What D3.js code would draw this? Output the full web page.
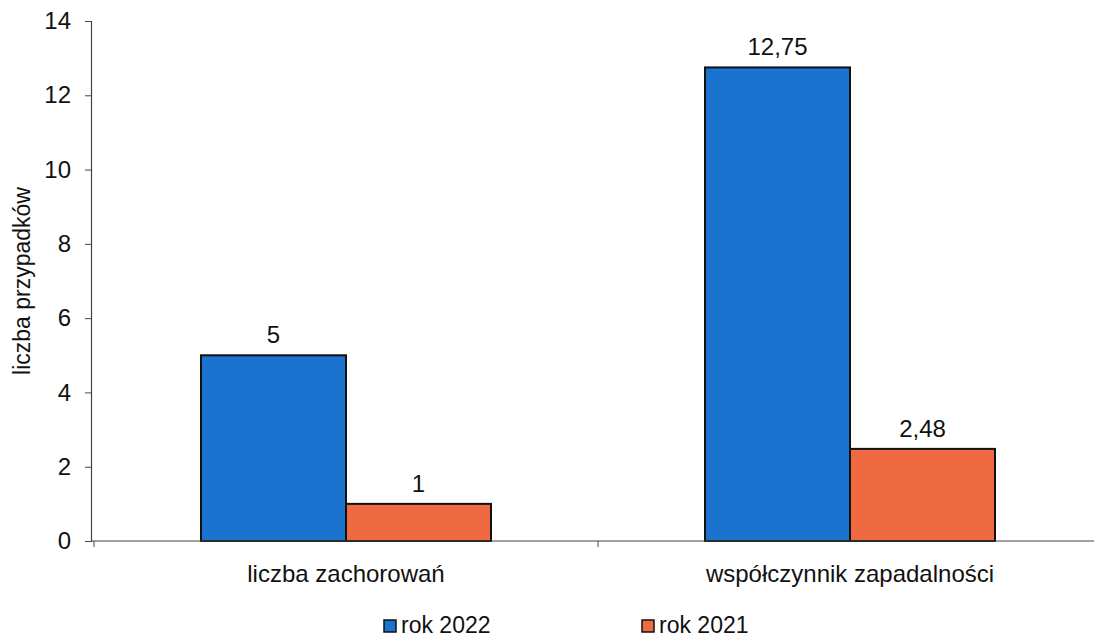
<!DOCTYPE html>
<html><head><meta charset="utf-8">
<script src="https://cdn.jsdelivr.net/npm/d3@7"></script>
<style>body{margin:0;background:#fff}svg{display:block;font-family:"Liberation Sans",Arial,sans-serif}</style>
</head><body><svg id="c" width="1094" height="639"></svg>
<script>
const categories = ["liczba zachorowań", "współczynnik zapadalności"];
const seriesNames = ["rok 2022", "rok 2021"];
const values2022 = [5, 12.75];
const values2021 = [1, 2.48];
const labels2022 = ["5", "12,75"];
const labels2021 = ["1", "2,48"];
const yTicks = [0, 2, 4, 6, 8, 10, 12, 14];
const colors = ["#1a74cf", "#ef6a40"];

const svg = d3.select("#c");
const x0 = d3.scaleBand().domain(categories).range([94, 1102]).paddingInner(0).paddingOuter(0);
const x1 = d3.scaleBand().domain(seriesNames).range([0, x0.bandwidth()]).paddingInner(0).paddingOuter(0.738);
const y = d3.scaleLinear().domain([0, 14]).range([541, 21]);

// bars
const series = [values2022, values2021];
const lbls = [labels2022, labels2021];
series.forEach((vals, si) => {
  const g = svg.append("g");
  g.selectAll("rect").data(categories).join("rect")
    .attr("x", c => x0(c) + x1(seriesNames[si]))
    .attr("y", (c, i) => y(vals[i]))
    .attr("width", x1.bandwidth())
    .attr("height", (c, i) => y(0) - y(vals[i]))
    .attr("fill", colors[si]).attr("stroke", "#111").attr("stroke-width", 2);
  g.selectAll("text").data(categories).join("text")
    .attr("x", c => x0(c) + x1(seriesNames[si]) + x1.bandwidth() / 2)
    .attr("y", (c, i) => y(vals[i]) - 12)
    .attr("text-anchor", "middle").attr("font-size", 24).attr("fill", "#111")
    .text((c, i) => lbls[si][i]);
});

// y axis
const ya = svg.append("g").attr("transform", "translate(91,0)")
  .call(d3.axisLeft(y).tickValues(yTicks).tickSize(6).tickPadding(14).tickFormat(d3.format("d")));
ya.select(".domain").attr("stroke", "#444").attr("stroke-width", 1.2);
ya.selectAll(".tick line").attr("stroke", "#444");
ya.selectAll("text").attr("font-size", 24).attr("fill", "#111").attr("font-family", "Liberation Sans, Arial, sans-serif");

// x axis
const xa = svg.append("g").attr("transform", "translate(0,541)");
xa.append("line").attr("x1", 91).attr("x2", 1102).attr("y1", 0).attr("y2", 0).attr("stroke", "#444").attr("stroke-width", 1.2);
const bounds = [x0.range()[0], x0(categories[1]), x0.range()[1]];
xa.selectAll("line.t").data(bounds).join("line").attr("class", "t")
  .attr("x1", d => d).attr("x2", d => d).attr("y1", 0).attr("y2", 6).attr("stroke", "#444");
xa.selectAll("text").data(categories).join("text")
  .attr("x", c => x0(c) + x0.bandwidth() / 2).attr("y", 41)
  .attr("text-anchor", "middle").attr("font-size", 24).attr("fill", "#111").text(c => c);

// y title
svg.append("text").attr("transform", "translate(30,281) rotate(-90)")
  .attr("text-anchor", "middle").attr("font-size", 23).attr("fill", "#111").text("liczba przypadków");

// legend
const legX = [384, 642];
seriesNames.forEach((s, i) => {
  svg.append("rect").attr("x", legX[i]).attr("y", 620).attr("width", 12).attr("height", 12)
    .attr("fill", colors[i]).attr("stroke", "#111").attr("stroke-width", 1.5);
  svg.append("text").attr("x", legX[i] + 17).attr("y", 633).attr("font-size", 23).attr("fill", "#111").text(s);
});
</script></body></html>
